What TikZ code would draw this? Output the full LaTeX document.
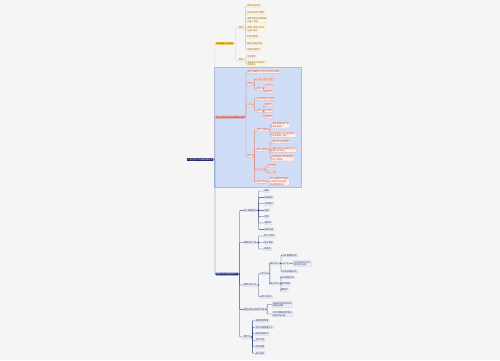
\documentclass[tikz,border=0pt]{standalone}
\usepackage{fontspec}
\newfontfamily\cjk{Noto Sans CJK SC}
\definecolor{pagebg}{HTML}{F5F5F5}
\definecolor{rootc}{HTML}{1B2461}
\definecolor{b1c}{HTML}{F7CD5B}
\definecolor{b1t}{HTML}{7A4E00}
\definecolor{b2c}{HTML}{E0685B}
\definecolor{b3c}{HTML}{1F2E85}
\definecolor{l1f}{HTML}{FFF8E6}
\definecolor{l1d}{HTML}{F2D9A2}
\definecolor{l1t}{HTML}{8A6420}
\definecolor{l2f}{HTML}{FFF1EE}
\definecolor{l2d}{HTML}{EE9C92}
\definecolor{l2t}{HTML}{C2483A}
\definecolor{l3f}{HTML}{EDEFF5}
\definecolor{l3d}{HTML}{C3C9DD}
\definecolor{l3t}{HTML}{27336F}
\definecolor{c1line}{HTML}{EBC98F}
\definecolor{c2line}{HTML}{E2887C}
\definecolor{c3line}{HTML}{2C3B7E}
\definecolor{bluebg}{HTML}{CFDDF7}
\definecolor{bluebd}{HTML}{A9BEE8}
\begin{document}
\begin{tikzpicture}[x=1bp,y=-1bp,
  nbase/.style={font=\cjk\fontsize{2.1}{2.6}\selectfont, inner xsep=0.7bp, inner ysep=0.45bp, rounded corners=0.4bp, anchor=west, align=left},
  rootnode/.style={nbase, fill=rootc, text=white, anchor=east},
  bA/.style={nbase, fill=b1c, text=b1t},
  bB/.style={nbase, fill=b2c, text=white},
  bC/.style={nbase, fill=b3c, text=white},
  lA/.style={nbase, fill=l1f, draw=l1d, line width=0.25bp, text=l1t},
  lB/.style={nbase, fill=l2f, draw=l2d, line width=0.25bp, text=l2t},
  lC/.style={nbase, fill=l3f, draw=l3d, line width=0.25bp, text=l3t},
  elbow/.style={to path={-- ++(1.5,0) |- (\tikztotarget)}},
  cA/.style={draw=c1line, line width=0.4bp, rounded corners=0.6bp},
  cB/.style={draw=c2line, line width=0.4bp, rounded corners=0.6bp},
  cC/.style={draw=c3line, line width=0.4bp, rounded corners=0.6bp}
]
\fill[pagebg] (0,0) rectangle (500,360);
\useasboundingbox (0,0) rectangle (500,360);
\filldraw[fill=bluebg, draw=bluebd, line width=0.3bp] (214,67) rectangle (301,187);

% root
\node[rootnode] (root) at (213.5,159.5) {产品运营工作流程思维导图};

% branch 1
\node[bA] (b1) at (215.5,43.5) {前期准备市场调研};
\node[lA] (s11) at (238,28) {调研};
\node[lA] (s12) at (238,60) {准备};
\node[lA] (a1) at (246.5,6) {明确运营目标};
\node[lA] (a2) at (246.5,12.7) {分析目标用户群体};
\node[lA] (a3) at (246.5,20) {调研竞品的运营策略\\与推广渠道};
\node[lA] (a4) at (246.5,29.3) {梳理产品核心卖点\\与用户痛点};
\node[lA] (a5) at (246.5,36.7) {制定预算表};
\node[lA] (a6) at (246.5,43.3) {确定关键指标值};
\node[lA] (a7) at (246.5,50) {组建运营团队};
\node[lA] (a8) at (246.5,56.7) {资源整合};
\node[lA] (a9) at (246.5,63.6) {准备素材文案及推广\\所需物料};

% branch 2
\node[bB] (b2) at (215.5,117) {运营执行阶段的核心工作要点};
\node[lB] (pA) at (247,72) {制定详细执行计划与时间节点安排};
\node[lB] (pB) at (247,84) {内容};
\node[lB] (pB1) at (256.5,79.3) {内容选题策划撰写};
\node[lB] (pB2) at (256.5,89) {发布};
\node[lB] (pB2a) at (264.5,85.7) {公众号};
\node[lB] (pB2b) at (264.5,91.9) {短视频};
\node[lB] (pC) at (247,104.5) {活动};
\node[lB] (pC1) at (256.5,98.7) {活动策划执行落地};
\node[lB] (pC2) at (256.5,111) {形式};
\node[lB] (pC2a) at (264.5,104.8) {抽奖类};
\node[lB] (pC2b) at (264.5,111) {打卡类};
\node[lB] (pC2c) at (264.5,117.2) {拼团类};
\node[lB] (pD) at (247,155.8) {用户};
\node[lB] (pD1) at (256.5,130) {用户拉新期};
\node[lB] (pD1a) at (271.5,125.3) {通过渠道投放广告\\获取新用户};
\node[lB] (pD1b) at (271.5,134.7) {利用老用户进行邀请裂变\\带来新用户增长};
\node[lB] (pD2) at (256.5,150) {用户留存期};
\node[lB] (pD2a) at (271.5,142) {建立用户成长体系};
\node[lB] (pD2b) at (271.5,149.7) {搭建社群进行精细化运营\\提升用户粘性};
\node[lB] (pD2c) at (271.5,158.3) {定期推送优质内容保持\\用户活跃度};
\node[lB] (pD3) at (256.5,169.3) {促活跃};
\node[lB] (pD3a) at (267,165.9) {签到奖励};
\node[lB] (pD3b) at (267,172.3) {积分兑换};
\node[lB] (pD4) at (256.5,181.7) {用户转化};
\node[lB] (pD4a) at (269,181.7) {设计合理的转化路径\\引导用户完成付费\\提升整体转化率};

% branch 3
\node[bC] (b3) at (215.5,274) {数据分析与复盘再优化};
\node[lC] (qE) at (243,210.3) {核心数据指标};
\node[lC] (qE1) at (264,191) {曝光};
\node[lC] (qE2) at (264,197.3) {新增用户};
\node[lC] (qE3) at (264,203.7) {活跃用户};
\node[lC] (qE4) at (264,210.3) {留存};
\node[lC] (qE5) at (264,216.7) {转化};
\node[lC] (qE6) at (264,223) {复购率};
\node[lC] (qE7) at (264,229.3) {客单价值};
\node[lC] (qF) at (243,242.5) {数据分析工具};
\node[lC] (qF1) at (263.5,236) {第三方统计};
\node[lC] (qF2) at (263.5,242.5) {后台数据};
\node[lC] (qF3) at (263.5,249) {表格类};
\node[lC] (qG) at (243,285) {数据分析方法};
\node[lC] (qG1) at (260.5,273.5) {对比法};
\node[lC] (qG1a) at (269.5,263.5) {横向对比};
\node[lC] (qG1ai) at (281.5,255.3) {与竞品数据对比};
\node[lC] (qG1aii) at (281.5,263.5) {与行业};
\node[lC] (qG1aiix) at (293,263.5) {与行业的平均水平\\进行对比分析};
\node[lC] (qG1aiii) at (281.5,271.3) {与目标数据对比};
\node[lC] (qG1b) at (269.5,283.7) {纵向对比};
\node[lC] (qG1bi) at (280.5,277.3) {环比数据对比};
\node[lC] (qG1bii) at (280.5,283.7) {同比数据};
\node[lC] (qG1biii) at (280.5,290.1) {看趋势};
\node[lC] (qG2) at (260.5,296.7) {漏斗分析法};
\node[lC] (qH) at (243,309.3) {复盘总结与经验的沉淀};
\node[lC] (qH1) at (272,304.5) {总结成功经验并形成\\标准化流程};
\node[lC] (qH2) at (272,314) {分析问题原因并提出\\改进优化方案};
\node[lC] (qI) at (243,337) {再优化};
\node[lC] (qI1) at (255,320.7) {调整运营策略};
\node[lC] (qI2) at (255,327.2) {优化内容质量方向};
\node[lC] (qI3) at (255,333.7) {改进活动形式};
\node[lC] (qI4) at (255,340.2) {迭代产品};
\node[lC] (qI5) at (255,346.7) {优化渠道};
\node[lC] (qI6) at (255,353.2) {提升效率};

% connectors
\draw[cA] (root.east) to[elbow] (b1.west);
\draw[cB] (root.east) to[elbow] (b2.west);
\draw[cC] (root.east) to[elbow] (b3.west);

\foreach \n in {s11,s12} \draw[cA] (b1.east) to[elbow] (\n.west);
\foreach \n in {a1,a2,a3,a4,a5,a6,a7} \draw[cA] (s11.east) to[elbow] (\n.west);
\foreach \n in {a8,a9} \draw[cA] (s12.east) to[elbow] (\n.west);

\foreach \n in {pA,pB,pC,pD} \draw[cB] (b2.east) to[elbow] (\n.west);
\foreach \n in {pB1,pB2} \draw[cB] (pB.east) to[elbow] (\n.west);
\foreach \n in {pB2a,pB2b} \draw[cB] (pB2.east) to[elbow] (\n.west);
\foreach \n in {pC1,pC2} \draw[cB] (pC.east) to[elbow] (\n.west);
\foreach \n in {pC2a,pC2b,pC2c} \draw[cB] (pC2.east) to[elbow] (\n.west);
\foreach \n in {pD1,pD2,pD3,pD4} \draw[cB] (pD.east) to[elbow] (\n.west);
\foreach \n in {pD1a,pD1b} \draw[cB] (pD1.east) to[elbow] (\n.west);
\foreach \n in {pD2a,pD2b,pD2c} \draw[cB] (pD2.east) to[elbow] (\n.west);
\foreach \n in {pD3a,pD3b} \draw[cB] (pD3.east) to[elbow] (\n.west);
\draw[cB] (pD4.east) to[elbow] (pD4a.west);

\foreach \n in {qE,qF,qG,qH,qI} \draw[cC] (b3.east) to[elbow] (\n.west);
\foreach \n in {qE1,qE2,qE3,qE4,qE5,qE6,qE7} \draw[cC] (qE.east) to[elbow] (\n.west);
\foreach \n in {qF1,qF2,qF3} \draw[cC] (qF.east) to[elbow] (\n.west);
\foreach \n in {qG1,qG2} \draw[cC] (qG.east) to[elbow] (\n.west);
\foreach \n in {qG1a,qG1b} \draw[cC] (qG1.east) to[elbow] (\n.west);
\foreach \n in {qG1ai,qG1aii,qG1aiii} \draw[cC] (qG1a.east) to[elbow] (\n.west);
\draw[cC] (qG1aii.east) to[elbow] (qG1aiix.west);
\foreach \n in {qG1bi,qG1bii,qG1biii} \draw[cC] (qG1b.east) to[elbow] (\n.west);
\foreach \n in {qH1,qH2} \draw[cC] (qH.east) to[elbow] (\n.west);
\foreach \n in {qI1,qI2,qI3,qI4,qI5,qI6} \draw[cC] (qI.east) to[elbow] (\n.west);
\end{tikzpicture}
\end{document}
